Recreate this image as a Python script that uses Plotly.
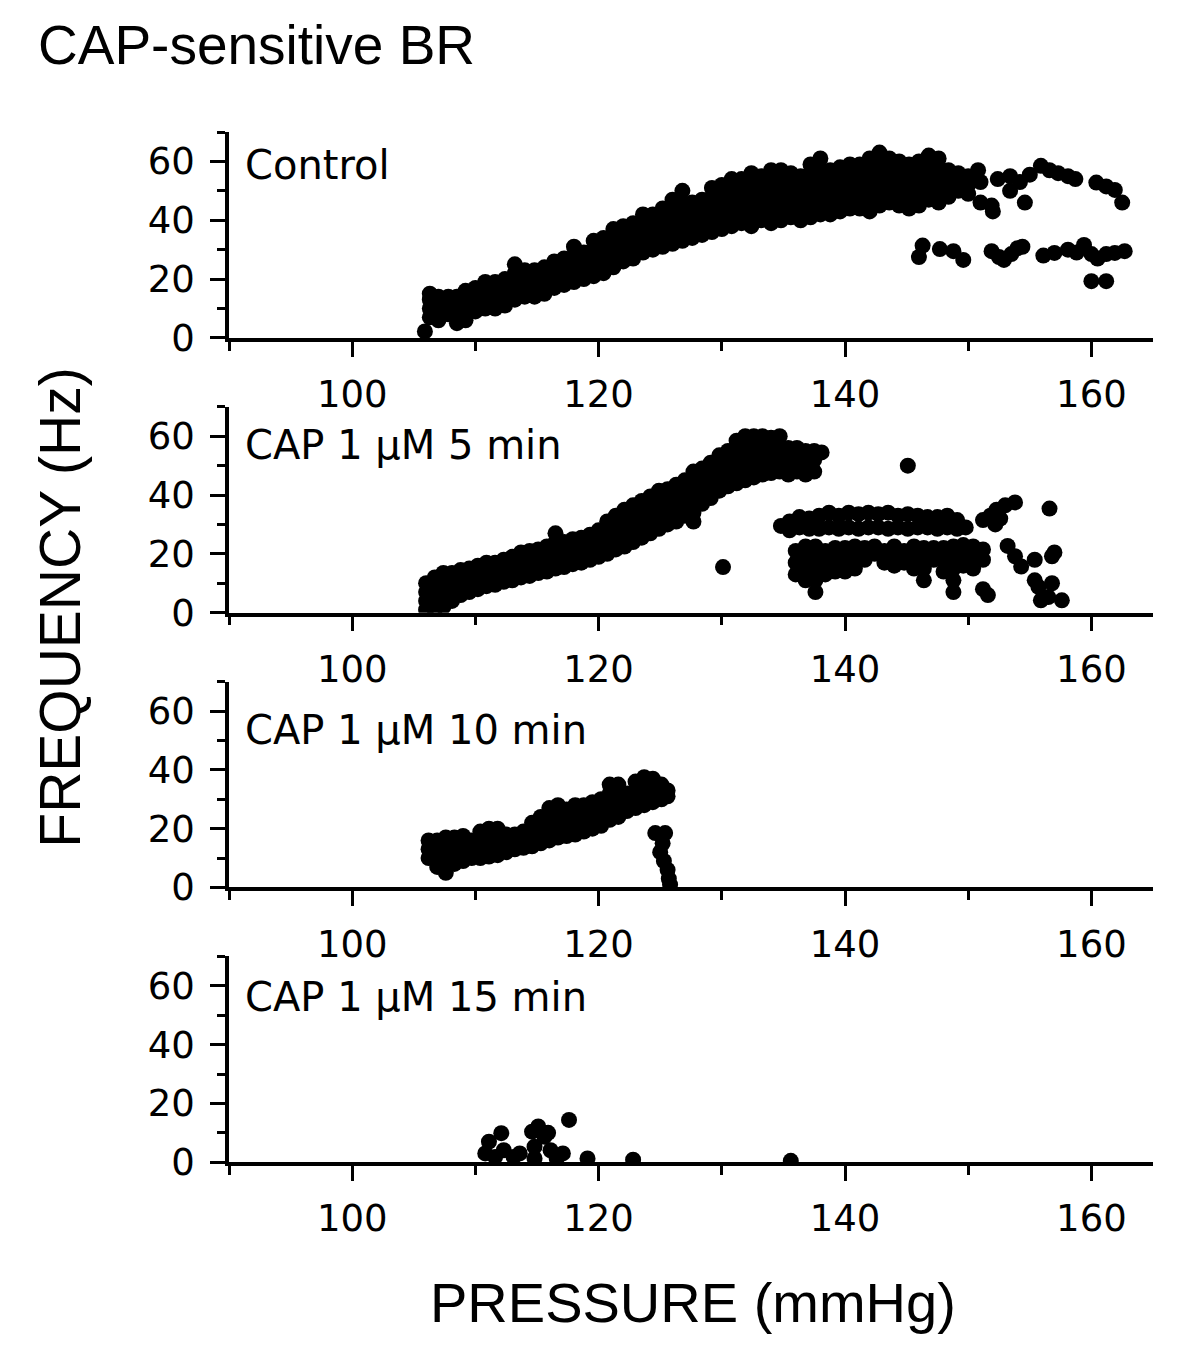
import plotly.graph_objects as go

# ---------------- data ----------------
x_tick_vals = [100, 120, 140, 160]
y_tick_vals = [0, 20, 40, 60]
panel_labels = ["Control", "CAP 1 \u03bcM 5 min", "CAP 1 \u03bcM 10 min", "CAP 1 \u03bcM 15 min"]

# Control: columns of (pressure, [frequencies])
ctrl_band = [
    (105.9, [2.2]),
    (106.3, [7, 10, 13, 15]), (107.0, [6, 9, 12, 14]), (107.8, [8, 11, 14]),
    (108.5, [5, 8, 11, 14]), (109.2, [6, 9, 12, 16]), (110.0, [9, 12, 15, 17]),
    (110.8, [10, 13, 16, 19]), (111.6, [10, 13, 16, 19]), (112.4, [11, 14, 17, 20]),
    (113.2, [13, 16, 19, 22, 25]), (114.0, [14, 17, 20, 23]), (114.8, [14, 17, 20, 23]),
    (115.6, [15, 18, 21, 24]), (116.4, [17, 20, 23, 26]), (117.2, [18, 21, 24, 27]),
    (118.0, [19, 22, 25, 28, 31]), (118.8, [20, 23, 26, 29]), (119.6, [21, 24, 27, 30, 33]),
    (120.4, [22, 25, 28, 31, 34]), (121.2, [24, 27, 30, 33, 37]), (122.0, [26, 29, 32, 35, 38]),
    (122.8, [27, 30, 33, 36, 39]), (123.6, [29, 32, 35, 38, 42]), (124.4, [30, 33, 36, 39, 42]),
    (125.2, [31, 34, 37, 40, 44]), (126.0, [32, 35, 38, 41, 44, 47]), (126.8, [33, 36, 39, 42, 46, 50]),
    (127.6, [34, 37, 40, 43, 46]), (128.4, [35, 38, 41, 44, 47]), (129.2, [36, 39, 42, 45, 48, 51]),
    (130.0, [37, 40, 43, 46, 49, 52]), (130.8, [38, 41, 44, 47, 50, 54]), (131.6, [39, 42, 45, 48, 51, 54]),
    (132.4, [38, 41, 44, 47, 50, 53, 56]), (133.2, [40, 43, 46, 49, 52, 55]),
    (134.0, [39, 42, 45, 48, 51, 54, 57]), (134.8, [40, 43, 46, 49, 52, 55, 57]),
    (135.6, [41, 44, 47, 50, 53, 56]), (136.4, [40, 43, 46, 49, 52, 55]),
    (137.2, [41, 44, 47, 50, 53, 56, 59]), (138.0, [42, 45, 48, 51, 54, 57, 61]),
    (138.8, [42, 45, 48, 51, 54, 57]), (139.6, [43, 46, 49, 52, 55, 58]),
    (140.4, [44, 47, 50, 53, 56, 59]), (141.2, [44, 47, 50, 53, 56, 59]),
    (142.0, [43, 46, 49, 52, 55, 58, 61]), (142.8, [45, 48, 51, 54, 57, 60, 63]),
    (143.6, [46, 49, 52, 55, 58, 61]), (144.4, [45, 48, 51, 54, 57, 60]),
    (145.2, [44, 47, 50, 53, 56, 59]), (146.0, [45, 48, 51, 54, 57, 60]),
    (146.8, [47, 50, 53, 56, 59, 62]), (147.6, [46, 49, 52, 55, 58, 61]),
    (148.4, [48, 51, 54, 57]), (149.2, [50, 53, 56]), (150.0, [49, 52, 55]),
]
ctrl_upper_x = [150.8, 151.0, 151.0, 151.9, 152.0, 152.4, 153.4, 153.4, 154.2, 155.0, 154.6, 155.9,
                156.6, 157.3, 158.1, 158.7, 160.4, 161.2, 161.9, 162.5]
ctrl_upper_y = [57, 53, 46, 45, 43, 54, 55, 50, 53, 55.5, 46, 58.5,
                57, 56, 55, 54, 52.8, 51.5, 50.3, 46]
ctrl_lower_x = [146.0, 146.3, 147.7, 148.8, 149.6, 151.9, 152.5, 152.9, 153.5, 154.0, 154.4, 156.1,
                157.0, 158.1, 158.8, 159.4, 160.0, 160.5, 161.2, 161.9, 162.7, 160.0, 161.2]
ctrl_lower_y = [27.5, 31.4, 30.2, 29.5, 26.5, 29.5, 27.5, 26.5, 28.5, 30.5, 31, 28,
                28.9, 30, 29, 31.6, 28.5, 27, 28.5, 28.9, 29.5, 19.3, 19.3]

# CAP 1 uM 5 min
cap5_band = [
    (106.0, [1, 4, 7, 10]), (106.7, [1, 4, 7, 10, 12]), (107.4, [2, 5, 8, 11, 13.5]),
    (108.1, [4, 7, 10, 13.5]), (108.8, [6, 9, 12, 14.5]), (109.5, [7, 10, 13, 15]),
    (110.2, [8, 11, 14, 16]), (110.9, [9, 12, 15, 17]), (111.6, [9.5, 12.5, 15.5, 17]),
    (112.3, [10.5, 13.5, 16.5, 18]), (113.0, [11, 14, 17, 19]), (113.7, [12, 15, 18, 20.5]),
    (114.4, [12.5, 15.5, 18.5, 21]), (115.1, [13.5, 16.5, 19.5, 21.5]), (115.8, [14, 17, 20, 22.5]),
    (116.5, [15, 18, 21, 24, 27]), (117.2, [15.5, 18.5, 21.5, 24]), (117.9, [16.5, 19.5, 22.5, 25]),
    (118.6, [17, 20, 23, 25.5]), (119.3, [18, 21, 24, 26.5]), (120.0, [19, 22, 25, 28]),
    (120.7, [20, 23, 26, 29, 31]), (121.4, [21.5, 24.5, 27.5, 30.5, 33]),
    (122.1, [22.5, 25.5, 28.5, 31.5, 35]), (122.8, [24, 27, 30, 33, 36.5]),
    (123.5, [25.5, 28.5, 31.5, 34.5, 38]), (124.2, [27, 30, 33, 36, 39.5]),
    (124.9, [28.5, 31.5, 34.5, 37.5, 41.5]), (125.6, [30, 33, 36, 39, 42]),
    (126.3, [31, 34, 37, 40, 43.5]), (127.0, [33, 36, 39, 42, 45]),
    (127.7, [31, 34, 37, 40, 43, 46, 48]), (128.4, [37, 40, 43, 46, 49]),
    (129.1, [39, 42, 45, 48, 51]), (129.8, [41.5, 44.5, 47.5, 50.5, 53.5]),
    (130.5, [43, 46, 49, 52, 55]), (131.2, [44, 47, 50, 53, 56, 58.5]),
    (131.9, [45, 48, 51, 54, 57, 60]), (132.6, [46, 49, 52, 55, 58, 60]),
    (133.3, [47, 50, 53, 56, 59, 60]), (134.0, [47.5, 50.5, 53.5, 56.5, 59.5]),
    (134.7, [48, 51, 54, 57, 60]), (135.4, [47, 50, 53, 56]), (136.1, [48, 51, 54, 56]),
    (136.8, [47, 50, 53, 55]), (137.5, [48, 52, 55]), (138.1, [54.5]),
]
cap5_mid_band = [
    (134.8, [29.5]), (135.5, [28, 31]), (136.3, [29, 32.5]), (137.1, [28.5, 32]),
    (137.9, [28.5, 33]), (138.7, [29, 34]), (139.5, [28.5, 33]), (140.3, [29, 34]),
    (141.1, [28.5, 33.5]), (141.9, [29, 34]), (142.7, [29, 33.5]), (143.5, [28.5, 34]),
    (144.3, [29, 33]), (145.1, [28.5, 33.5]), (145.9, [29, 33]), (146.7, [29, 32.5]),
    (147.5, [28.5, 32.5]), (148.3, [29, 33]), (149.1, [28.5, 31.5]), (149.8, [29]),
]
cap5_low_band = [
    (136.0, [13, 17, 21]), (136.8, [11, 15, 19, 22.5]), (137.6, [7, 11, 15, 19, 22.5]),
    (138.4, [13, 17, 21]), (139.2, [14, 18, 22]), (140.0, [14, 18, 22]),
    (140.8, [15, 19, 22.5]), (141.6, [18, 22]), (142.4, [20, 22.5]), (143.2, [17, 21]),
    (144.0, [16, 20, 22.5]), (144.8, [17, 21]), (145.6, [15, 19, 22.5]),
    (146.4, [11, 15, 19, 22]), (147.2, [18, 22]), (148.0, [14, 18, 22]),
    (148.8, [7, 11, 15, 19, 22.5]), (149.6, [16, 20, 23]), (150.4, [15, 19, 22.5]),
    (151.2, [8, 18, 21.5]),
]
cap5_scatter_x = [130.1, 145.1, 151.2, 151.8, 152.3, 153.0, 153.8, 152.2, 152.6, 156.6,
                  153.2, 153.8, 154.3, 155.4, 155.4, 156.8, 157.0, 156.8, 156.5, 157.6,
                  155.9, 155.7, 151.6]
cap5_scatter_y = [15.5, 50, 31.5, 33, 35, 36.5, 37.5, 30, 32, 35.4,
                  22.7, 19.2, 15.7, 18, 11, 19.2, 20.5, 10, 5.3, 4.2,
                  4.2, 8.8, 6]

# CAP 1 uM 10 min
cap10_band = [
    (106.2, [10, 13, 16]), (106.9, [7, 10, 13, 16]), (107.6, [5, 8, 11, 14, 17]),
    (108.3, [8, 11, 14, 17]), (109.0, [9, 12, 15, 17.5]), (109.7, [10, 13, 16]),
    (110.4, [10, 13, 16, 19]), (111.1, [10.5, 13.5, 16.5, 20]), (111.8, [11, 14, 17, 20]),
    (112.5, [12, 15, 18]), (113.2, [13, 16, 18]), (113.9, [13.5, 16.5, 19]),
    (114.6, [14, 17, 20, 22]), (115.3, [15, 18, 21, 24]), (116.0, [16, 19, 22, 25, 27]),
    (116.7, [17, 20, 23, 26, 28]), (117.4, [17.5, 20.5, 23.5, 26.5]),
    (118.1, [18, 21, 24, 27, 28]), (118.8, [19, 22, 25, 28]), (119.5, [20, 23, 26, 29]),
    (120.2, [21, 24, 27, 30]), (120.9, [23, 26, 29, 32, 35]), (121.6, [24, 27, 30, 33, 35]),
    (122.3, [26, 29, 32]), (123.0, [27, 30, 33, 36]), (123.7, [28, 31, 34, 37.5]),
    (124.4, [29, 32, 35, 37]), (125.1, [30, 33, 35]), (125.6, [31, 33]),
]
cap10_drop_x = [124.6, 125.4, 125.2, 125.0, 125.3, 125.6, 125.7, 125.8]
cap10_drop_y = [18.5, 18.5, 15, 12, 9, 6, 3, 1]

# CAP 1 uM 15 min
cap15_x = [111.1, 110.8, 112.1, 112.3, 111.6, 114.6, 115.1, 115.6, 114.8, 113.6,
           116.1, 117.1, 117.6, 116.6, 119.1, 122.8, 135.6, 114.8, 113.1, 115.9]
cap15_y = [7, 3, 9.9, 4.1, 1.8, 10.4, 12.2, 8.7, 5.3, 3,
           4.1, 3, 14.4, 1.3, 1.3, 0.9, 0.5, 1.3, 1.8, 10]


def expand(cols):
    xs, ys = [], []
    for x, yl in cols:
        for y in yl:
            xs.append(x)
            ys.append(y)
    return xs, ys


p1x, p1y = expand(ctrl_band)
p1x += ctrl_upper_x + ctrl_lower_x
p1y += ctrl_upper_y + ctrl_lower_y

p2x, p2y = expand(cap5_band)
for cols in (cap5_mid_band, cap5_low_band):
    a, b = expand(cols)
    p2x += a
    p2y += b
p2x += cap5_scatter_x
p2y += cap5_scatter_y

p3x, p3y = expand(cap10_band)
p3x += cap10_drop_x
p3y += cap10_drop_y

p4x, p4y = list(cap15_x), list(cap15_y)

panels = [(p1x, p1y), (p2x, p2y), (p3x, p3y), (p4x, p4y)]

# ---------------- layout ----------------
OFF = 8                      # default page body margin
W, H = 1200 - 2 * OFF, 1352 - 2 * OFF   # figure fits inside the window
SY = 1.016                   # vertical correction observed in the photographed page
X0, X1 = 229, 1153           # target pixel positions in the window
bottoms = [338, 613, 888, 1163]
PH = 206
label_centers = [165, 445, 730, 998]
TICKFONT = dict(family="DejaVu Sans", size=37, color="black")


def px(p):
    return (p - OFF) / W


def py(p):
    return 1 - (p * SY - OFF) / H


fig = go.Figure()
for i, (xs, ys) in enumerate(panels):
    s = "" if i == 0 else str(i + 1)
    fig.add_trace(go.Scatter(
        x=xs, y=ys, mode="markers",
        marker=dict(size=16, color="black", line=dict(width=0)),
        xaxis="x" + s, yaxis="y" + s, showlegend=False, hoverinfo="skip",
    ))
    fig.update_layout(**{
        "xaxis" + s: dict(
            domain=[px(X0), px(X1)], range=[90, 165], anchor="y" + s,
            showline=True, linewidth=3.5, linecolor="black",
            showgrid=False, zeroline=False,
            ticks="outside", tickvals=x_tick_vals, ticklen=15, tickwidth=3, tickcolor="black",
            minor=dict(tickvals=[90, 110, 130, 150], ticks="outside", ticklen=9,
                       tickwidth=3, tickcolor="black", showgrid=False),
            tickfont=TICKFONT, ticklabelstandoff=6,
        ),
        "yaxis" + s: dict(
            domain=[py(bottoms[i]), py(bottoms[i] - PH)], range=[0, 70], anchor="x" + s,
            showline=True, linewidth=3.5, linecolor="black",
            showgrid=False, zeroline=False,
            ticks="outside", tickvals=y_tick_vals, ticklen=15, tickwidth=3, tickcolor="black",
            minor=dict(tickvals=[10, 30, 50, 70], ticks="outside", ticklen=8,
                       tickwidth=3, tickcolor="black", showgrid=False),
            tickfont=TICKFONT, ticklabelstandoff=8,
        ),
    })
    fig.add_annotation(
        text=panel_labels[i], x=px(243), y=py(label_centers[i]), xref="paper", yref="paper",
        xanchor="left", yanchor="middle", showarrow=False,
        font=dict(family="DejaVu Sans", size=40, color="black"),
    )

fig.add_annotation(
    text="CAP-sensitive BR", x=px(36), y=py(45), xref="paper", yref="paper",
    xanchor="left", yanchor="middle", showarrow=False,
    font=dict(family="Liberation Sans", size=55, color="black"),
)
fig.add_annotation(
    text="FREQUENCY (Hz)", x=px(60), y=py(608), xref="paper", yref="paper",
    xanchor="center", yanchor="middle", textangle=-90, showarrow=False,
    font=dict(family="Liberation Sans", size=57, color="black"),
)
fig.add_annotation(
    text="PRESSURE (mmHg)", x=px(693), y=py(1303), xref="paper", yref="paper",
    xanchor="center", yanchor="middle", showarrow=False,
    font=dict(family="Liberation Sans", size=56, color="black"),
)

fig.update_layout(
    width=W, height=H, autosize=False,
    margin=dict(l=0, r=0, t=0, b=0),
    paper_bgcolor="white", plot_bgcolor="white",
)

fig.write_html("out.html")
